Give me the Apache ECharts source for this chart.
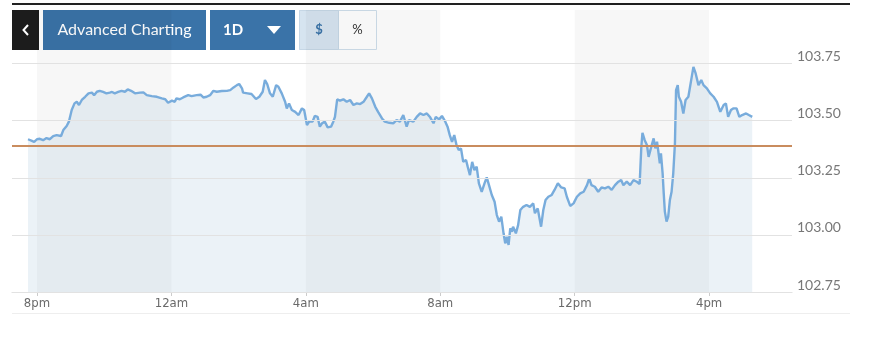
<!DOCTYPE html>
<html><head><meta charset="utf-8">
<script src="https://cdn.jsdelivr.net/npm/echarts@6/dist/echarts.min.js"></script>
<style>html,body{margin:0;padding:0;background:#fff}#c{width:870px;height:338px}</style>
</head><body><div id="c"></div>
<script>
// minutes since 8pm
const minutes = [
-16,-9,-5,0,5,11,17,23,29,35,
38,43,47,53,57,62,67,71,75,80,
86,92,98,102,107,112,118,124,130,134,
139,145,151,157,162,168,175,184,190,196,
205,214,223,229,234,241,246,249,255,261,
270,276,285,292,297,303,309,315,321,330,
339,345,351,357,361,366,368,376,383,391,
397,403,407,411,416,421,427,431,437,443,
446,450,455,461,467,473,477,482,486,492,
496,501,505,509,514,519,525,529,532,536,
541,547,553,559,565,571,577,583,589,593,
598,604,609,616,621,629,636,642,648,654,
660,664,672,678,684,690,696,702,708,712,
718,723,729,733,737,741,745,749,753,757,
761,766,769,773,777,781,785,789,794,799,
803,807,812,817,821,825,829,833,836,839,
842,845,848,850,855,859,863,868,874,880,
886,889,894,900,904,908,913,919,924,930,
936,942,946,952,958,964,970,976,982,986,
990,996,1002,1008,1014,1020,1026,1032,1038,1043,
1047,1053,1059,1065,1071,1076,1079,1081,1085,1089,
1092,1096,1101,1104,1107,1109,1112,1114,1117,1119,
1121,1124,1127,1130,1133,1136,1139,1141,1144,1146,
1150,1154,1158,1163,1168,1172,1176,1181,1186,1190,
1196,1202,1208,1214,1220,1226,1230,1234,1239,1243,
1249,1254,1259,1266,1271,1277];
const prices = [
103.419,103.412,103.407,103.419,103.421,103.415,103.424,103.419,103.433,103.437,
103.430,103.433,103.459,103.477,103.496,103.547,103.576,103.583,103.569,103.591,
103.605,103.620,103.623,103.612,103.627,103.631,103.626,103.620,103.623,103.626,
103.620,103.626,103.631,103.627,103.637,103.631,103.620,103.623,103.624,103.612,
103.608,103.605,103.598,103.594,103.579,103.588,103.583,103.598,103.594,103.602,
103.612,103.608,103.612,103.614,103.602,103.605,103.612,103.631,103.627,103.630,
103.631,103.634,103.646,103.656,103.661,103.642,103.623,103.620,103.617,103.595,
103.605,103.627,103.678,103.661,103.620,103.605,103.656,103.649,103.620,103.583,
103.554,103.576,103.547,103.539,103.525,103.554,103.547,103.481,103.496,103.496,
103.521,103.517,103.474,103.489,103.496,103.471,103.474,103.496,103.517,103.594,
103.588,103.594,103.583,103.591,103.569,103.576,103.573,103.583,103.605,103.620,
103.598,103.561,103.539,103.510,103.496,103.491,103.489,103.503,103.496,103.525,
103.474,103.503,103.496,103.517,103.532,103.525,103.532,103.515,103.489,103.517,
103.506,103.521,103.496,103.474,103.437,103.408,103.437,103.394,103.372,103.379,
103.320,103.328,103.299,103.262,103.320,103.284,103.299,103.226,103.189,103.226,
103.252,103.218,103.175,103.145,103.087,103.058,103.080,103.007,102.963,102.992,
102.956,103.029,103.014,103.036,103.007,103.043,103.109,103.123,103.131,103.123,
103.138,103.095,103.116,103.036,103.109,103.153,103.167,103.175,103.197,103.226,
103.208,103.204,103.167,103.127,103.138,103.167,103.182,103.189,103.218,103.248,
103.218,103.211,103.189,103.208,103.204,103.211,103.197,103.218,103.233,103.240,
103.218,103.233,103.218,103.240,103.233,103.223,103.386,103.447,103.415,103.394,
103.342,103.379,103.423,103.379,103.408,103.372,103.313,103.357,103.270,103.182,
103.102,103.058,103.080,103.153,103.189,103.270,103.401,103.634,103.656,103.605,
103.583,103.532,103.591,103.605,103.678,103.736,103.707,103.656,103.678,103.656,
103.642,103.620,103.605,103.583,103.539,103.569,103.576,103.517,103.547,103.554,
103.554,103.517,103.525,103.532,103.525,103.517];
const xTickMinutes = [0,240,480,720,960,1200];
const xTickLabels = ['8pm','12am','4am','8am','12pm','4pm'];
const yTicks = [102.75,103.00,103.25,103.50,103.75];
const prevClose = 103.395;
const shadedRanges = [[0,240],[480,720],[960,1200]];

const chart = echarts.init(document.getElementById('c'));
const data = minutes.map((m,i)=>[m,prices[i]]);
chart.setOption({
  animation:false,
  backgroundColor:'#fff',
  grid:{left:12,right:78,top:10,bottom:46},
  xAxis:{type:'value',min:-44.6,max:1348,
    axisLine:{show:true,lineStyle:{color:'#dcdcdc'}},
    axisTick:{show:true,customValues:xTickMinutes,length:4,lineStyle:{color:'#ccc'}},
    axisLabel:{customValues:xTickMinutes,margin:5,color:'#6a6a6a',fontSize:13,
      fontFamily:"'Liberation Sans Narrow','DejaVu Sans Condensed','Noto Sans',sans-serif",
      formatter:v=>{const i=xTickMinutes.indexOf(Math.round(v));return i>=0?xTickLabels[i]:'';}},
    splitLine:{show:false}},
  yAxis:{type:'value',position:'right',min:102.75,max:103.985,
    axisLine:{show:false},axisTick:{show:false},splitLine:{show:false},
    axisLabel:{customValues:yTicks,margin:5,color:'#777',fontSize:14,fontFamily:'Lato, sans-serif',
      verticalAlign:'bottom',formatter:v=>v.toFixed(2)}},
  series:[{
    type:'line',data:data,showSymbol:false,symbol:'none',
    lineStyle:{color:'#78acdc',width:2.4},
    areaStyle:{origin:'start',color:'rgba(124,168,204,0.22)'},
    markArea:{silent:true,itemStyle:{color:'rgba(0,0,0,0.03)'},
      data:shadedRanges.map(r=>[{xAxis:r[0]},{xAxis:r[1]}])},
    markLine:{silent:true,symbol:['none','none'],label:{show:false},
      data:yTicks.map(v=>({yAxis:v,lineStyle:{color:'#e2e2e2',width:1,type:'solid'}}))
        .concat([{yAxis:prevClose,lineStyle:{color:'#c98c5e',width:2,type:'solid'}}])}
  }],
  graphic:[
    {type:'rect',shape:{x:12,y:3,width:838,height:2},style:{fill:'#222'}},
    {type:'line',shape:{x1:12,y1:313.5,x2:850,y2:313.5},style:{stroke:'#eee',lineWidth:1}},
    {type:'rect',shape:{x:12,y:10,width:27,height:40},style:{fill:'#1c1c1c'}},
    {type:'polyline',shape:{points:[[28,25],[23.5,30],[28,35]]},style:{stroke:'#fff',lineWidth:2,fill:null}},
    {type:'rect',shape:{x:43,y:10,width:163,height:40},style:{fill:'#3a73a8'}},
    {type:'text',x:124.5,y:30,style:{text:'Advanced Charting',fill:'#fff',font:'16px Lato, sans-serif',align:'center',verticalAlign:'middle'}},
    {type:'rect',shape:{x:210,y:10,width:85,height:40},style:{fill:'#3a73a8'}},
    {type:'text',x:233,y:30,style:{text:'1D',fill:'#fff',font:'bold 15px Lato, sans-serif',align:'center',verticalAlign:'middle'}},
    {type:'polygon',shape:{points:[[267,26],[281,26],[274,34]]},style:{fill:'#fff'}},
    {type:'rect',shape:{x:299.5,y:10.5,width:77,height:39},style:{fill:'#fff',stroke:'#cfdeeb',lineWidth:1}},
    {type:'rect',shape:{x:299.5,y:10.5,width:39,height:39},style:{fill:'#d6e4f0',stroke:'#c6d7e6',lineWidth:1}},
    {type:'text',x:319,y:30,style:{text:'$',fill:'#3a73a8',font:'bold 13px Lato, sans-serif',align:'center',verticalAlign:'middle'}},
    {type:'text',x:357.5,y:30,style:{text:'%',fill:'#333',font:'13px Lato, sans-serif',align:'center',verticalAlign:'middle'}}
  ]
});
</script></body></html>
